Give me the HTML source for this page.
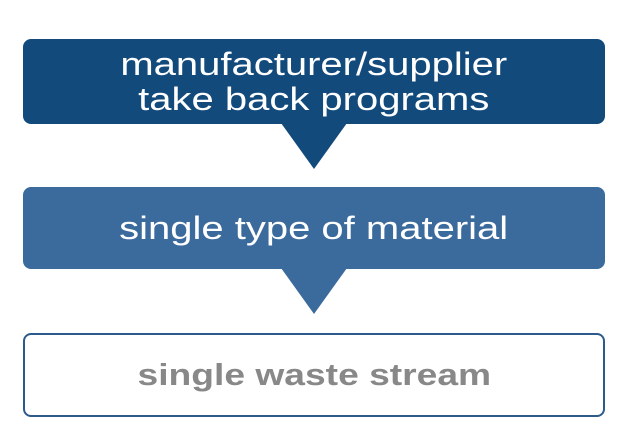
<!DOCTYPE html>
<html><head><style>
body{margin:0;width:627px;height:438px;background:#fff;position:relative;overflow:hidden;font-family:"Liberation Sans",sans-serif}
.b{position:absolute;left:23px;width:582px;border-radius:8px;display:flex;align-items:center;justify-content:center;text-align:center;box-sizing:border-box}
.t{display:inline-block;transform:scaleX(1.25)}
</style></head><body>
<div class="b" style="top:39px;height:85px;background:#134a7c;color:#fff;font-size:32px;line-height:35px"><span class="t">manufacturer/supplier<br>take back programs</span></div>
<svg style="position:absolute;left:0;top:0" width="627" height="438">
<polygon points="281,123 347,123 314,169" fill="#134a7c"/>
<polygon points="281,268 347,268 314,314" fill="#3b6a9c"/>
</svg>
<div class="b" style="top:187px;height:82px;background:#3b6a9c;color:#fff;font-size:32px"><span class="t">single type of material</span></div>
<div class="b" style="top:333px;height:84px;background:#fff;border:2px solid #2c5b8a;color:#888;font-size:31px;font-weight:bold"><span class="t" style="transform:scaleX(1.2)">single waste stream</span></div>
</body></html>
